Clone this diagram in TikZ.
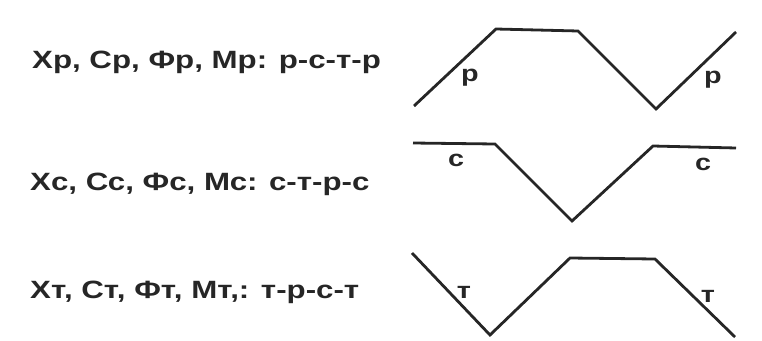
\documentclass[tikz,border=0pt]{standalone}
\usepackage{fontspec}
\setmainfont{Liberation Sans}
\newfontfamily\wideface[FakeStretch=1.25]{Liberation Sans}
\usepackage{tikz}
\usetikzlibrary{positioning,calc}

\begin{document}
\begin{tikzpicture}[
  x=1pt,y=-1pt,
  rule/.style={anchor=west,font=\wideface\fontsize{25}{28}\selectfont\bfseries,text=black!85,inner sep=0pt},
  curve/.style={line width=2.8pt,black!85,line join=miter},
  tag/.style={font=\wideface\fontsize{23}{26}\selectfont\bfseries,text=black!85,inner sep=0pt}
]
\useasboundingbox (0,0) rectangle (762,340);
% rule labels
\node[rule] (rp) at (32,62)  {Хр, Ср, Фр, Мр: р-с-т-р};
\node[rule] (rc) at (30,184) {Хс, Сс, Фс, Мс: с-т-р-с};
\node[rule] (rt) at (30,292) {Хт, Ст, Фт, Мт,: т-р-с-т};
% р-curve
\coordinate (p0) at (414,106); \coordinate (p1) at (496,29);
\coordinate (p2) at (578,31);  \coordinate (p3) at (656,109);
\coordinate (p4) at (736,32);
\draw[curve] (p0)--(p1)--(p2)--(p3)--(p4);
\node[tag] (pa) at (470,78) {р};
\node[tag] (pb) at (713,80) {р};
% с-curve
\coordinate (c0) at (413,143); \coordinate (c1) at (495,144);
\coordinate (c2) at (572,221); \coordinate (c3) at (653,146);
\coordinate (c4) at (736,148);
\draw[curve] (c0)--(c1)--(c2)--(c3)--(c4);
\node[tag] (ca) at (456,160) {с};
\node[tag] (cb) at (703,164) {с};
% т-curve
\coordinate (t0) at (412,253); \coordinate (t1) at (490,335);
\coordinate (t2) at (570,258); \coordinate (t3) at (655,259);
\coordinate (t4) at (735,337);
\draw[curve] (t0)--(t1)--(t2)--(t3)--(t4);
\node[tag] (ta) at (464,292) {т};
\node[tag] (tb) at (708,296) {т};
\end{tikzpicture}
\end{document}
